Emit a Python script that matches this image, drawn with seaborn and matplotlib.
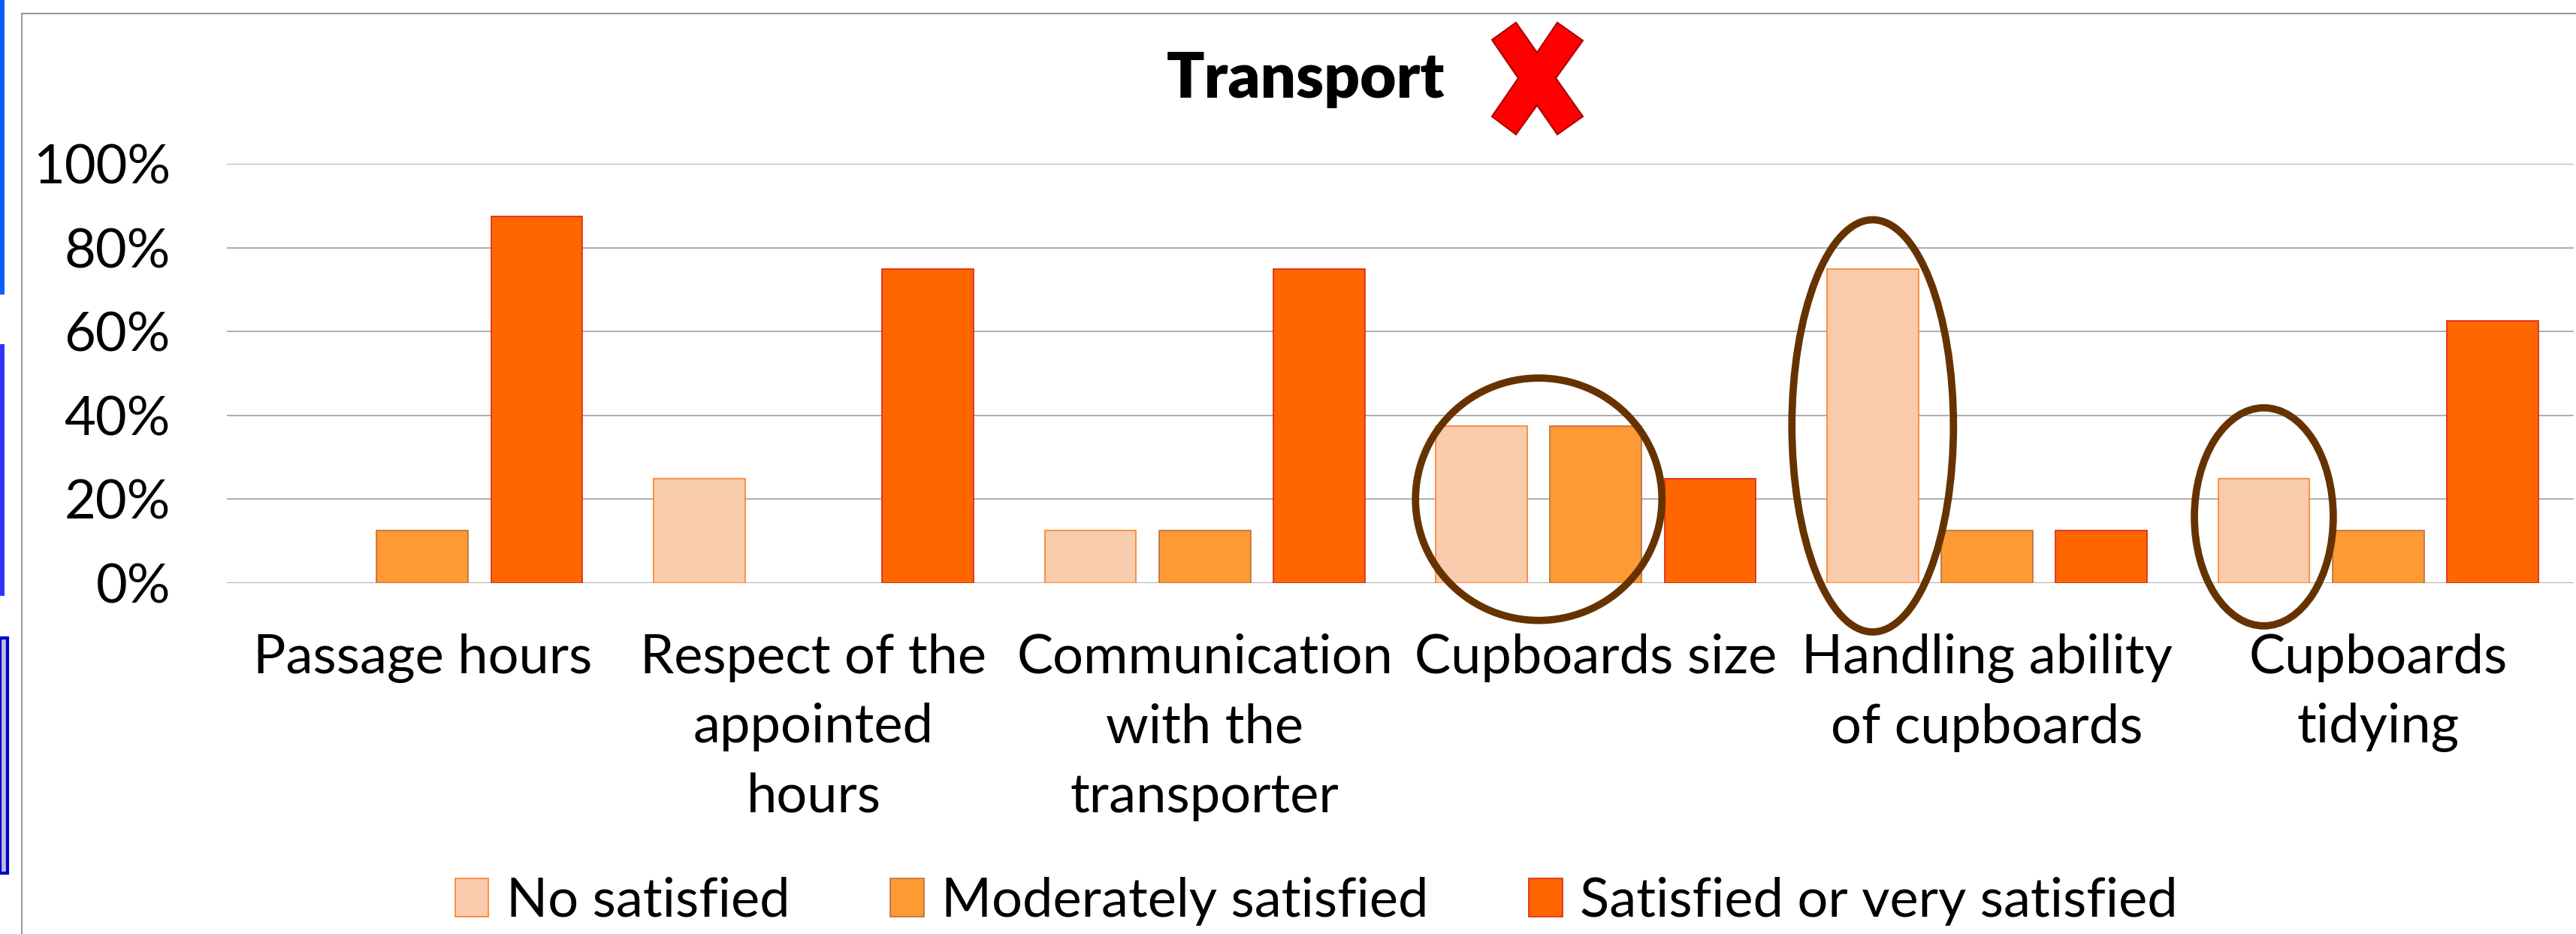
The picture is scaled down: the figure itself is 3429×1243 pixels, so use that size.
import numpy as np
import pandas as pd
import matplotlib
matplotlib.use("Agg")
import matplotlib.pyplot as plt
import seaborn as sns
from matplotlib.patches import Ellipse, Polygon, Rectangle, Patch
from matplotlib.lines import Line2D
from matplotlib.ticker import PercentFormatter

# --- data ---
categories = [
    "Passage hours",
    "Respect of the\nappointed\nhours",
    "Communication\nwith the\ntransporter",
    "Cupboards size",
    "Handling ability\nof cupboards",
    "Cupboards\ntidying",
]
levels = ["No satisfied", "Moderately satisfied", "Satisfied or very satisfied"]
no_satisfied = [0.0, 0.25, 0.125, 0.375, 0.75, 0.25]
moderately_satisfied = [0.125, 0.0, 0.125, 0.375, 0.125, 0.125]
very_satisfied = [0.875, 0.75, 0.75, 0.25, 0.125, 0.625]

fill_colors = ["#F8CBAD", "#FF9933", "#FF6600"]
edge_colors = ["#FF7F2A", "#B8703E", "#D8281A"]

# highlighted groups: (category index, hue indices circled, centre y, width, height)
highlights = [
    (3, [0, 1], 0.20, 0.63, 0.578),
    (4, [0], 0.375, 0.413, 0.983),
    (5, [0], 0.158, 0.355, 0.52),
]

df = pd.DataFrame({
    "item": np.repeat(categories, len(levels)),
    "level": levels * len(categories),
    "value": np.column_stack([no_satisfied, moderately_satisfied, very_satisfied]).ravel(),
})

sns.set_style("white")
plt.rcParams["font.family"] = ["Lato", "DejaVu Sans"]
plt.rcParams["text.color"] = "black"
plt.rcParams["xtick.color"] = "black"
plt.rcParams["ytick.color"] = "black"

W, H = 3430, 1243
fig = plt.figure(figsize=(W / 100, H / 100), dpi=100)
ax = fig.add_axes([302 / W, 1 - 776 / H, (3426 - 302) / W, (776 - 218) / H])

sns.barplot(data=df, x="item", y="value", hue="level", hue_order=levels,
            order=categories, palette=fill_colors, saturation=1, width=0.877, gap=0.2,
            errorbar=None, legend=False, ax=ax, zorder=3)

for cont, ec in zip(ax.containers, edge_colors):
    for bar in cont:
        bar.set_edgecolor(ec)
        bar.set_linewidth(1.2 if bar.get_height() > 0 else 0)

ax.set_ylim(0, 1)
ax.set_xlim(-0.5, len(categories) - 0.5)
ax.set_yticks(np.arange(0, 1.01, 0.2))
ax.yaxis.set_major_formatter(PercentFormatter(1.0, decimals=0))
ax.grid(axis="y", color="#A6A6A6", linewidth=1.3, zorder=0)
ax.set_axisbelow(True)
for s in ax.spines.values():
    s.set_visible(False)
ax.set_xlabel("")
ax.set_ylabel("")
ax.tick_params(axis="y", length=0, pad=54, labelsize=52, labelcolor="black")
ax.tick_params(axis="x", length=0, pad=48, labelsize=52, labelcolor="black")
for lab in ax.get_xticklabels():
    lab.set_linespacing(1.52)

# circled bars
for cat, hues, cy, ew, eh in highlights:
    cx = np.mean([ax.containers[h][cat].get_x() + ax.containers[h][cat].get_width() / 2 for h in hues])
    ax.add_patch(Ellipse((cx, cy), ew, eh, fill=False, edgecolor="#663300",
                         linewidth=7, clip_on=False, zorder=5))

# title and red cross
fig.text(1553 / W, 1 - 130 / H, "Transport", fontsize=60, fontweight="heavy",
         ha="left", va="baseline", color="black")
cross = np.array([(1986, 53), (2018, 30), (2046, 70), (2073, 30), (2107, 54),
                  (2071, 104), (2107, 155), (2073, 179), (2046, 140), (2018, 179),
                  (1986, 155), (2021, 104)], dtype=float)
cross[:, 0] /= W
cross[:, 1] = 1 - cross[:, 1] / H
fig.patches.append(Polygon(cross, closed=True, facecolor="#FF0000", edgecolor="#B00000",
                           linewidth=1.5, transform=fig.transFigure))

# slide frame and left-edge leftovers
fig.add_artist(Line2D([29 / W, 1], [1 - 18 / H] * 2, color="#9A9A9A", linewidth=1.5))
fig.add_artist(Line2D([29 / W] * 2, [0, 1 - 18 / H], color="#9A9A9A", linewidth=1.5))
fig.patches.append(Rectangle((0, 1 - 392 / H), 6 / W, 392 / H, facecolor="#0A60FF",
                             edgecolor="none", transform=fig.transFigure))
fig.patches.append(Rectangle((0, 1 - 793 / H), 6 / W, 335 / H, facecolor="#3333FF",
                             edgecolor="none", transform=fig.transFigure))
fig.patches.append(Rectangle((0, 1 - 1162 / H), 10 / W, 313 / H, facecolor="#BBBBE0",
                             edgecolor="#0000CC", linewidth=3, transform=fig.transFigure))

# legend
handles = [Patch(facecolor=fc, edgecolor=ec, linewidth=1.2) for fc, ec in zip(fill_colors, edge_colors)]
fig.legend(handles, levels, loc="center", bbox_to_anchor=(1752 / W, 1 - 1199 / H),
           ncol=3, frameon=False, fontsize=52, handlelength=0.62, handleheight=0.7,
           handletextpad=0.32, columnspacing=1.85)

fig.savefig("out.png", dpi=100)
